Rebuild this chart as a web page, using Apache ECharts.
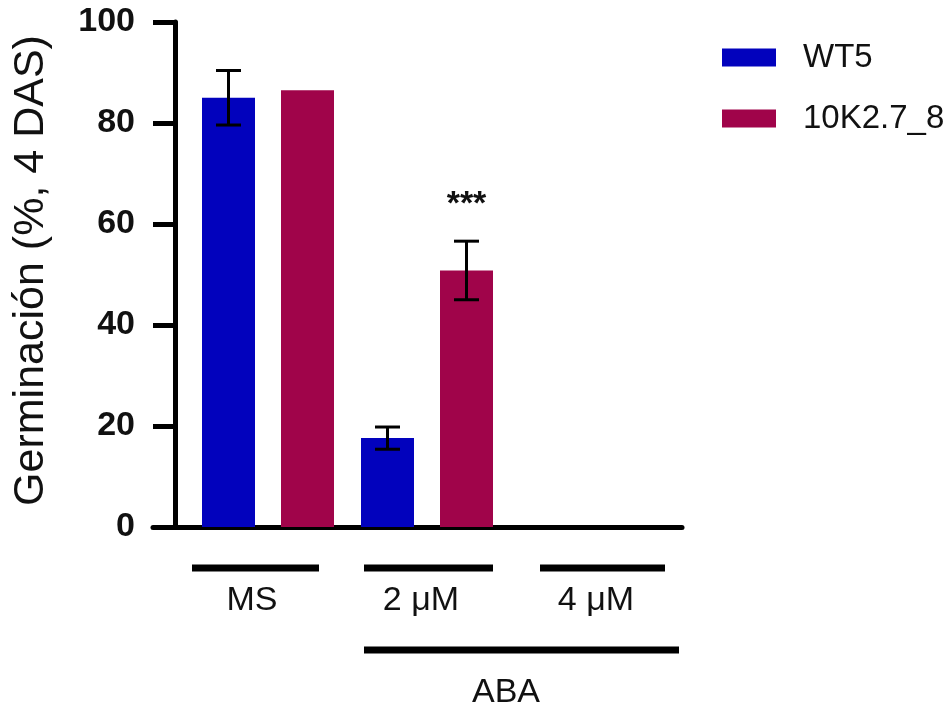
<!DOCTYPE html>
<html>
<head>
<meta charset="utf-8">
<script src="https://cdn.jsdelivr.net/npm/echarts@6/dist/echarts.min.js"></script>
<style>
html,body{margin:0;padding:0;background:#fff;}
#chart{width:952px;height:713px;}
</style>
</head>
<body>
<div id="chart"></div>
<script>
// ---- data ----
const categories = ['MS', '2 μM', '4 μM'];
const seriesNames = ['WT5', '10K2.7_8'];
const wt5 = [85, 17.6, 0];
const wt5Err = [5.4, 2.2, 0];
const k10 = [86.5, 50.8, 0];
const k10Err = [0, 5.8, 0];
const significance = ['', '***', ''];
const yTicks = [0, 20, 40, 60, 80, 100];
const groupTitle = 'ABA';
const groupSpan = [1, 2];
const yTitle = 'Germinación (%, 4 DAS)';

// ---- layout / style ----
const FONT = '"Liberation Sans", Arial, sans-serif';
const colors = ['#0202bd', '#a0044a'];
const BAR_W = 53, BAR_GAP_PX = 26;
const OFF = (BAR_W + BAR_GAP_PX) / 2;
const LAYOUT = {
  groupLine: [[-76, 51], [-63, 66], [-46, 79]],
  labelDx: [-16, -6, 10],
  lineDy: 41, labelDy: 74,
  abaLine: [-63, 93], abaTextDx: 79, abaLineDy: 123, abaTextDy: 166
};

const chart = echarts.init(document.getElementById('chart'));

function errSeries(vals, errs, off) {
  return {
    type: 'custom', clip: false, z: 5,
    data: vals.map((v, i) => [i, v, errs[i]]),
    encode: { x: 0, y: 1 },
    renderItem: function (params, api) {
      const x = api.value(0), m = api.value(1), e = api.value(2);
      if (!e) return;
      const t = api.coord([x, m + e]), b = api.coord([x, m - e]);
      const cx = t[0] + off, hw = 12.5;
      const st = { stroke: '#000', lineWidth: 3 };
      return { type: 'group', children: [
        { type: 'line', shape: { x1: cx, y1: t[1], x2: cx, y2: b[1] }, style: st },
        { type: 'line', shape: { x1: cx - hw, y1: t[1], x2: cx + hw, y2: t[1] }, style: st },
        { type: 'line', shape: { x1: cx - hw, y1: b[1], x2: cx + hw, y2: b[1] }, style: st }
      ]};
    }
  };
}

const option = {
  animation: false,
  backgroundColor: '#fff',
  grid: { left: 153, right: 270, top: 22, bottom: 186, containLabel: false },
  legend: {
    orient: 'vertical', left: 717, top: 36,
    itemWidth: 54, itemHeight: 18, itemGap: 28,
    icon: 'rect',
    textStyle: { fontFamily: FONT, fontSize: 33, color: '#111', lineHeight: 32, padding: [0, 0, 0, 22] },
    data: seriesNames
  },
  xAxis: {
    type: 'value', min: -115 / 159, max: 414 / 159,
    axisLine: { show: true, onZero: false, lineStyle: { color: '#000', width: 5 } },
    axisTick: { show: false }, axisLabel: { show: false }, splitLine: { show: false }
  },
  yAxis: {
    type: 'value', min: 0, max: 100, interval: 20, offset: -22,
    name: yTitle, nameLocation: 'middle', nameGap: 122, nameRotate: 90,
    nameTextStyle: { fontFamily: FONT, fontSize: 43, color: '#111', padding: [0, 0, 0, 8] },
    axisLine: { show: true, onZero: false, lineStyle: { color: '#000', width: 5 } },
    axisTick: { show: true, length: 22, lineStyle: { color: '#000', width: 5 } },
    axisLabel: { margin: 40, fontFamily: FONT, fontSize: 34, fontWeight: 'bold', color: '#111',
      formatter: v => yTicks.includes(v) ? String(v) : '' },
    splitLine: { show: false }
  },
  series: [
    { name: seriesNames[0], type: 'bar', barWidth: BAR_W, barGap: (BAR_GAP_PX / BAR_W * 100) + '%',
      itemStyle: { color: colors[0] }, data: wt5.map((v, i) => [i, v]) },
    { name: seriesNames[1], type: 'bar', barWidth: BAR_W, barGap: (BAR_GAP_PX / BAR_W * 100) + '%',
      itemStyle: { color: colors[1] }, data: k10.map((v, i) => [i, v]) },
    errSeries(wt5, wt5Err, -OFF),
    errSeries(k10, k10Err, OFF),
    { // significance marks
      type: 'custom', clip: false, z: 6,
      data: k10.map((v, i) => [i, v + k10Err[i]]),
      encode: { x: 0, y: 1 },
      renderItem: function (params, api) {
        const s = significance[params.dataIndex];
        if (!s) return;
        const p = api.coord([api.value(0), api.value(1)]);
        return { type: 'text', style: { text: s, x: p[0] + OFF, y: p[1] - 37,
          align: 'center', verticalAlign: 'middle', font: 'bold 34px ' + FONT, fill: '#111' } };
      }
    },
    { // category brackets and labels
      type: 'custom', clip: false, z: 6,
      data: categories.map((c, i) => [i, 0]),
      encode: { x: 0, y: 1 },
      renderItem: function (params, api) {
        const i = params.dataIndex;
        const p = api.coord([api.value(0), 0]);
        return { type: 'group', children: [
          { type: 'line', shape: { x1: p[0] + LAYOUT.groupLine[i][0], y1: p[1] + LAYOUT.lineDy,
              x2: p[0] + LAYOUT.groupLine[i][1], y2: p[1] + LAYOUT.lineDy },
            style: { stroke: '#000', lineWidth: 7 } },
          { type: 'text', style: { text: categories[i], x: p[0] + LAYOUT.labelDx[i], y: p[1] + LAYOUT.labelDy,
              align: 'center', verticalAlign: 'middle', font: '34px ' + FONT, fill: '#111' } }
        ]};
      }
    },
    { // ABA bracket
      type: 'custom', clip: false, z: 6,
      data: [[groupSpan[0], 0, groupSpan[1]]],
      encode: { x: 0, y: 1 },
      renderItem: function (params, api) {
        const a = api.coord([api.value(0), 0]);
        const b = api.coord([api.value(2), 0]);
        return { type: 'group', children: [
          { type: 'line', shape: { x1: a[0] + LAYOUT.abaLine[0], y1: a[1] + LAYOUT.abaLineDy,
              x2: b[0] + LAYOUT.abaLine[1], y2: a[1] + LAYOUT.abaLineDy },
            style: { stroke: '#000', lineWidth: 7 } },
          { type: 'text', style: { text: groupTitle, x: a[0] + LAYOUT.abaTextDx, y: a[1] + LAYOUT.abaTextDy,
              align: 'center', verticalAlign: 'middle', font: '34px ' + FONT, fill: '#111' } }
        ]};
      }
    }
  ]
};
chart.setOption(option);
</script>
</body>
</html>
